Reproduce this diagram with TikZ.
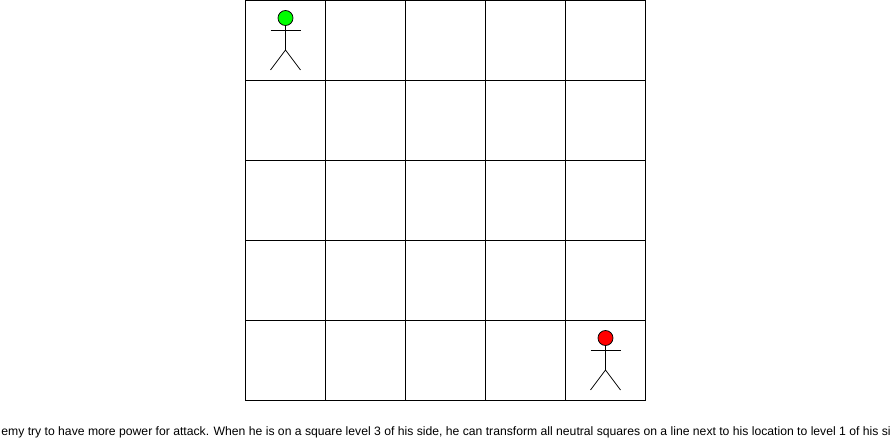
\documentclass[tikz,border=0pt]{standalone}
\usepackage{fontspec}
\setmainfont{Liberation Sans}
\usetikzlibrary{matrix,positioning,calc}

\begin{document}
\begin{tikzpicture}[
    x=1bp, y=1bp, line width=0.75bp,
    board/.style={matrix of nodes, nodes in empty cells, nodes={draw, minimum width=80bp, minimum height=80bp, anchor=center}, column sep=-\pgflinewidth, row sep=-\pgflinewidth},
    head/.style={circle, draw, minimum size=15bp, inner sep=0pt, outer sep=0pt},
    caption/.style={font=\fontsize{12.18bp}{14bp}\selectfont, inner sep=0pt, anchor=base west}
]
\useasboundingbox (0,0) rectangle (891,-441);

\matrix [board] (grid) at (445.5,-200.5) {
    & & & & \\
    & & & & \\
    & & & & \\
    & & & & \\
    & & & & \\
};

% the two players
\foreach \who/\cell/\shade in {top/grid-1-1/green, bottom/grid-5-5/red} {
    \node [head, fill=\shade] (\who Head) at ($(\cell.center)+(0,22.5)$) {};
    \coordinate (\who Neck) at ($(\cell.center)+(0,10.5)$);
    \coordinate (\who ArmL) at ($(\who Neck)+(-15,0)$);
    \coordinate (\who ArmR) at ($(\who Neck)+(15,0)$);
    \coordinate (\who Hip) at ($(\who Neck)+(0,-20)$);
    \coordinate (\who FootL) at ($(\who Hip)+(-15,-20)$);
    \coordinate (\who FootR) at ($(\who Hip)+(15,-20)$);
    \draw (\who Head) -- (\who Hip);
    \draw (\who ArmL) -- (\who ArmR);
    \draw (\who FootL) -- (\who Hip) -- (\who FootR);
}

\node [caption] (rules) at (1,-435) {emy try to have more power for attack. When he is on a square level 3 of his side, he can transform all neutral squares on a line next to his location to level 1 of his si};

\end{tikzpicture}
\end{document}
